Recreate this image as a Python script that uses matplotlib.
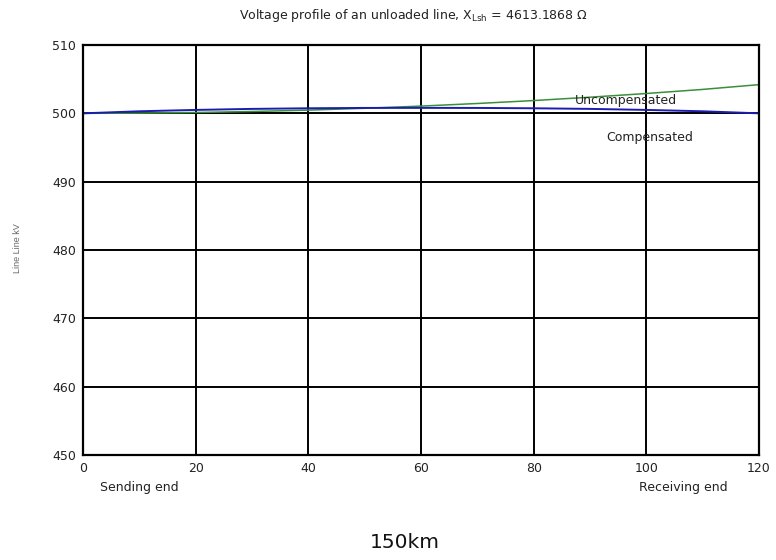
import numpy as np
import matplotlib
matplotlib.use("Agg")
import matplotlib.pyplot as plt

# distance along the line (km)
dist = [0, 10, 20, 30, 40, 50, 60, 70, 80, 90, 100, 110, 120]
# line-line voltage (kV)
v_uncomp = [500.0, 500.03, 500.12, 500.27, 500.47, 500.74, 501.06, 501.44, 501.87, 502.36, 502.9, 503.5, 504.2]
v_comp = [500.0, 500.3, 500.5, 500.65, 500.74, 500.79, 500.8, 500.79, 500.74, 500.65, 500.5, 500.3, 500.0]

x_ticks = [0, 20, 40, 60, 80, 100, 120]
y_ticks = [450, 460, 470, 480, 490, 500, 510]

plt.rcParams['font.family'] = ['DejaVu Sans']

fig = plt.figure(figsize=(7.76, 5.6), dpi=100)
ax = fig.add_axes([83 / 776, 1 - 455 / 560, (759 - 83) / 776, (455 - 45) / 560])

ax.plot(dist, v_uncomp, color='#3a8f3a', lw=1.1)
ax.plot(dist, v_comp, color='#1c1cb0', lw=1.4)

ax.set_xlim(0, 120)
ax.set_ylim(450, 510)
ax.set_xticks(x_ticks)
ax.set_yticks(y_ticks)
ax.grid(True, color='black', lw=1.4)
ax.set_axisbelow(True)
for s in ax.spines.values():
    s.set_linewidth(1.6)
ax.tick_params(length=0, labelsize=9, pad=5, colors='#222222')

ax.text(96.4, 501.95, 'Uncompensated', fontsize=9, ha='center', va='center', color='#222222')
ax.text(100.6, 496.5, 'Compensated', fontsize=9, ha='center', va='center', color='#222222')

fig.text(413 / 776, 1 - 16 / 560,
         r'Voltage profile of an unloaded line, X$_{\mathregular{Lsh}}$ = 4613.1868 $\Omega$',
         fontsize=9, ha='center', va='center', color='#222222')
fig.text(18 / 776, 1 - 248 / 560, 'Line Line kV', fontsize=6.5, rotation=90,
         family='Liberation Sans', color='#666666', ha='center', va='center')

fig.text(139 / 776, 1 - 488 / 560, 'Sending end', fontsize=9, ha='center', va='center', color='#222222')
fig.text(683 / 776, 1 - 488 / 560, 'Receiving end', fontsize=9, ha='center', va='center', color='#222222')
fig.text(405 / 776, 1 - 543 / 560, '150km', fontsize=14.5, ha='center', va='center', color='#111111')

fig.savefig('out.png', dpi=100)
